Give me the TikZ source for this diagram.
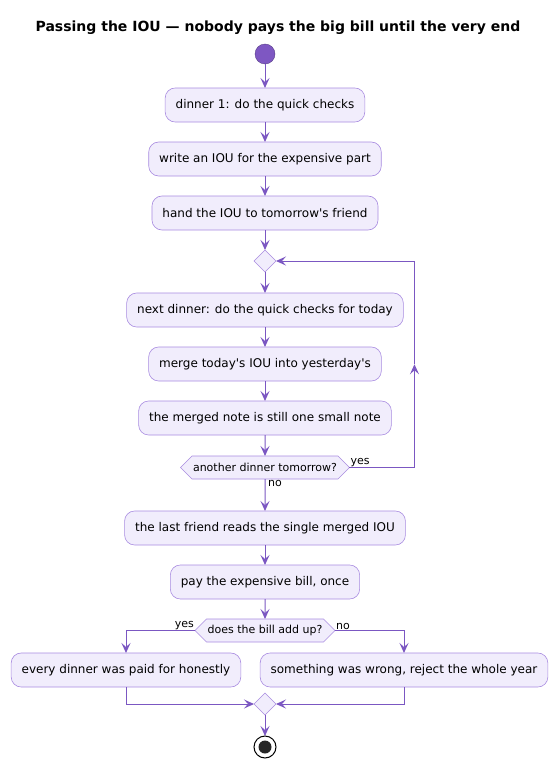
\documentclass[tikz,border=0pt]{standalone}
\usepackage{fontspec}
\setmainfont{DejaVu Sans}
\usetikzlibrary{shapes.geometric,shapes.symbols,arrows.meta,positioning,calc}
\definecolor{actfill}{HTML}{F1EDFC}
\definecolor{actline}{HTML}{A88BE0}
\definecolor{flowline}{HTML}{7B57C2}
\definecolor{startfill}{HTML}{7E57C2}
\tikzset{
  act/.style={rectangle, rounded corners=10pt, draw=actline, fill=actfill, line width=0.6pt,
    minimum height=34pt, inner xsep=10.5pt, outer sep=0pt, font=\fontsize{12}{14}\selectfont},
  ask/.style={signal, signal to=east and west, signal pointer angle=90, draw=actline, fill=actfill,
    line width=0.6pt, minimum height=23pt, inner xsep=1pt, inner ysep=0pt, outer sep=0pt,
    font=\fontsize{11}{13}\selectfont},
  merge/.style={diamond, draw=actline, fill=actfill, line width=0.6pt, minimum width=22pt,
    minimum height=22pt, inner sep=0pt, outer sep=0pt},
  flow/.style={draw=flowline, line width=1pt, -{Stealth[length=10pt,width=9pt,inset=4pt]}},
  lbl/.style={font=\fontsize{11}{13}\selectfont, inner sep=1pt},
}

\begin{document}
\begin{tikzpicture}
\useasboundingbox (0,0) rectangle (556pt,-768pt);
%nodes
\node[font=\bfseries\fontsize{14}{16}\selectfont] (title) at (278pt,-28pt) {Passing the IOU — nobody pays the big bill until the very end};
\node[circle, fill=startfill, draw=startfill!70!black, minimum size=20pt, inner sep=0pt, outer sep=0pt] (start) at (265pt,-54pt) {};
\node[act, below = 24pt of start](dinner1) {dinner 1: do the quick checks};
\node[act, below = 20pt of dinner1](writeiou) {write an IOU for the expensive part};
\node[act, below = 20pt of writeiou](handiou) {hand the IOU to tomorrow\textquotesingle s friend};
\node[merge, below = 20pt of handiou](loop) {};
\node[act, below = 21pt of loop](nextdinner) {next dinner: do the quick checks for today};
\node[act, below = 20pt of nextdinner](mergeiou) {merge today\textquotesingle s IOU into yesterday\textquotesingle s};
\node[act, below = 20pt of mergeiou](smallnote) {the merged note is still one small note};
\node[ask, below = 21pt of smallnote](again) {another dinner tomorrow?};
\node[act, below = 32pt of again](lastfriend) {the last friend reads the single merged IOU};
\node[act, below = 20pt of lastfriend](paybill) {pay the expensive bill, once};
\node[ask, below = 20pt of paybill](addsup) {does the bill add up?};
\node[act, below = 11pt of addsup, xshift=-139pt](honest) {every dinner was paid for honestly};
\node[act, below = 11pt of addsup, xshift=139pt](wrong) {something was wrong, reject the whole year};
\node[merge] (join) at ([yshift=-17pt]addsup |- honest.south) {};
\node[circle, draw=black, line width=1pt, fill=white, minimum size=22pt, inner sep=0pt, outer sep=0pt,
  path picture={\fill[black!85] (path picture bounding box.center) circle (6.5pt);}, below = 21pt of join](stop) {};
%labels
\node[lbl, anchor=south west] (yesloop) at (again.east) {yes};
\node[lbl, anchor=north west, xshift=2pt] (noloop) at (again.south) {no};
\node[lbl, anchor=south east] (yesbill) at (addsup.west) {yes};
\node[lbl, anchor=south west] (nobill) at (addsup.east) {no};
%connectors
\draw[flow] (start) -- (dinner1);
\draw[flow] (dinner1) -- (writeiou);
\draw[flow] (writeiou) -- (handiou);
\draw[flow] (handiou) -- (loop);
\draw[flow] (loop) -- (nextdinner);
\draw[flow] (nextdinner) -- (mergeiou);
\draw[flow] (mergeiou) -- (smallnote);
\draw[flow] (smallnote) -- (again);
\coordinate (loopdown) at ([xshift=65pt]again.east);
\coordinate (loopup) at (loopdown |- loop.east);
\coordinate (loopmid) at ($(loopdown)!0.5!(loopup)$);
\draw[flow] (again.east) -- (loopdown) -- (loopmid);
\draw[flow] (loopmid) -- (loopup) -- (loop.east);
\draw[flow] (again) -- (lastfriend);
\draw[flow] (lastfriend) -- (paybill);
\draw[flow] (paybill) -- (addsup);
\draw[flow] (addsup.west) -| (honest.north);
\draw[flow] (addsup.east) -| (wrong.north);
\draw[flow] (honest.south) |- (join.west);
\draw[flow] (wrong.south) |- (join.east);
\draw[flow] (join) -- (stop);
\end{tikzpicture}
\end{document}
